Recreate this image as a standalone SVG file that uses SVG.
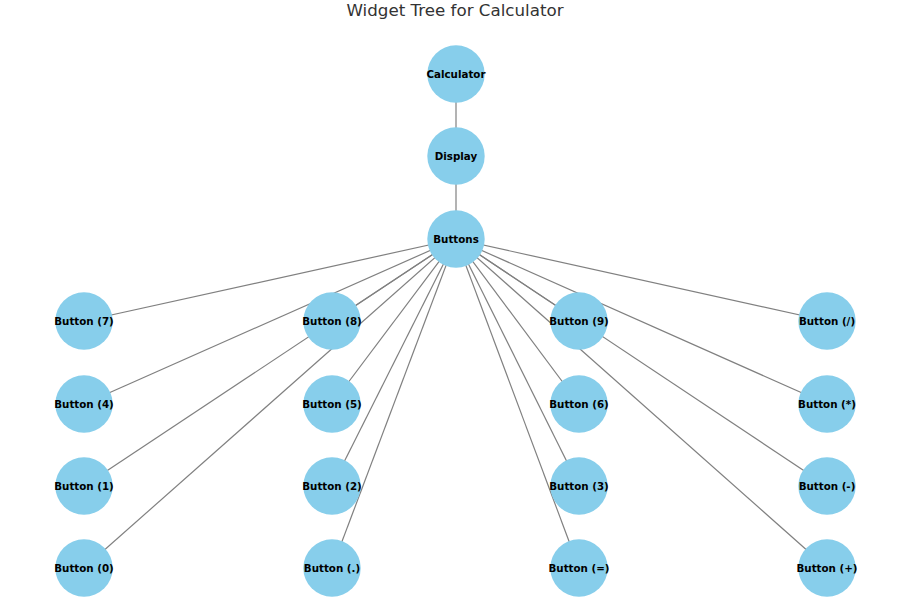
<svg xmlns="http://www.w3.org/2000/svg" width="907" height="610" viewBox="0 0 907 610">
<style>
.n{fill:#87CEEB}
.t{font-family:"DejaVu Sans",sans-serif;font-weight:bold;font-size:10.3px;fill:#000;text-anchor:middle;dominant-baseline:central}
.e line{stroke:#808080;stroke-width:1.2}
.title{font-family:"DejaVu Sans",sans-serif;font-size:16.7px;fill:#333;text-anchor:middle}
</style>
<rect width="907" height="610" fill="#fff"/>
<text class="title" x="455" y="16">Widget Tree for Calculator</text>
<g id="edges" class="e">
<line x1="456" y1="74" x2="456" y2="156"/>
<line x1="456" y1="156" x2="456" y2="239"/>
<line x1="456" y1="239" x2="84" y2="321"/>
<line x1="456" y1="239" x2="332" y2="321"/>
<line x1="456" y1="239" x2="579" y2="321"/>
<line x1="456" y1="239" x2="827" y2="321"/>
<line x1="456" y1="239" x2="84" y2="404"/>
<line x1="456" y1="239" x2="332" y2="404"/>
<line x1="456" y1="239" x2="579" y2="404"/>
<line x1="456" y1="239" x2="827" y2="404"/>
<line x1="456" y1="239" x2="84" y2="486"/>
<line x1="456" y1="239" x2="332" y2="486"/>
<line x1="456" y1="239" x2="579" y2="486"/>
<line x1="456" y1="239" x2="827" y2="486"/>
<line x1="456" y1="239" x2="84" y2="568"/>
<line x1="456" y1="239" x2="332" y2="568"/>
<line x1="456" y1="239" x2="579" y2="568"/>
<line x1="456" y1="239" x2="827" y2="568"/>
</g>
<g id="calculator"><circle class="n" cx="456" cy="74" r="28.7"/><text class="t" x="456" y="73.5">Calculator</text></g>
<g id="display"><circle class="n" cx="456" cy="156" r="28.7"/><text class="t" x="456" y="155.5">Display</text></g>
<g id="buttons"><circle class="n" cx="456" cy="239" r="28.7"/><text class="t" x="456" y="238.5">Buttons</text></g>
<g id="b7"><circle class="n" cx="84" cy="321" r="28.7"/><text class="t" x="84" y="320.5">Button (7)</text></g>
<g id="b8"><circle class="n" cx="332" cy="321" r="28.7"/><text class="t" x="332" y="320.5">Button (8)</text></g>
<g id="b9"><circle class="n" cx="579" cy="321" r="28.7"/><text class="t" x="579" y="320.5">Button (9)</text></g>
<g id="bdiv"><circle class="n" cx="827" cy="321" r="28.7"/><text class="t" x="827" y="320.5">Button (/)</text></g>
<g id="b4"><circle class="n" cx="84" cy="404" r="28.7"/><text class="t" x="84" y="403.5">Button (4)</text></g>
<g id="b5"><circle class="n" cx="332" cy="404" r="28.7"/><text class="t" x="332" y="403.5">Button (5)</text></g>
<g id="b6"><circle class="n" cx="579" cy="404" r="28.7"/><text class="t" x="579" y="403.5">Button (6)</text></g>
<g id="bmul"><circle class="n" cx="827" cy="404" r="28.7"/><text class="t" x="827" y="403.5">Button (*)</text></g>
<g id="b1"><circle class="n" cx="84" cy="486" r="28.7"/><text class="t" x="84" y="485.5">Button (1)</text></g>
<g id="b2"><circle class="n" cx="332" cy="486" r="28.7"/><text class="t" x="332" y="485.5">Button (2)</text></g>
<g id="b3"><circle class="n" cx="579" cy="486" r="28.7"/><text class="t" x="579" y="485.5">Button (3)</text></g>
<g id="bsub"><circle class="n" cx="827" cy="486" r="28.7"/><text class="t" x="827" y="485.5">Button (-)</text></g>
<g id="b0"><circle class="n" cx="84" cy="568" r="28.7"/><text class="t" x="84" y="567.5">Button (0)</text></g>
<g id="bdot"><circle class="n" cx="332" cy="568" r="28.7"/><text class="t" x="332" y="567.5">Button (.)</text></g>
<g id="beq"><circle class="n" cx="579" cy="568" r="28.7"/><text class="t" x="579" y="567.5">Button (=)</text></g>
<g id="badd"><circle class="n" cx="827" cy="568" r="28.7"/><text class="t" x="827" y="567.5">Button (+)</text></g>
</svg>
